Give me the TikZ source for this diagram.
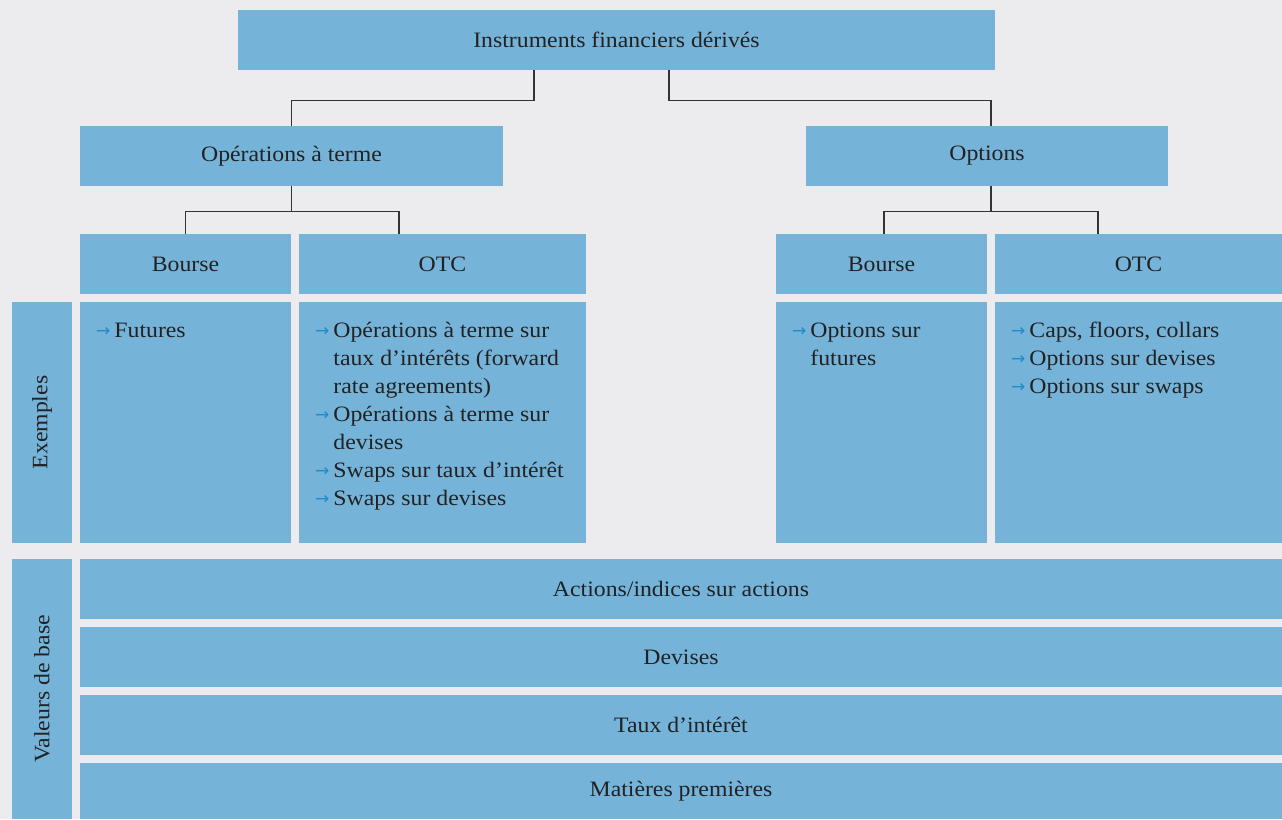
\documentclass[tikz,border=0pt]{standalone}
\usepackage{fontspec}
\setmainfont{Liberation Serif}[FakeStretch=1.08]
\newfontfamily\arrfont{DejaVu Sans}
\usetikzlibrary{calc}
\definecolor{bg}{HTML}{ECECEE}
\definecolor{boxblue}{HTML}{76B3D9}
\definecolor{arrblue}{HTML}{1E8BCB}
\definecolor{txt}{HTML}{222222}
\definecolor{linec}{HTML}{333333}
\newcommand{\itemarr}{{\arrfont\color{arrblue}\fontsize{17}{17}\selectfont\raisebox{1pt}{→}}}
\begin{document}
\begin{tikzpicture}[x=1pt,y=-1pt,
  box/.style={fill=boxblue, inner sep=0pt, text=txt, font=\fontsize{22}{28}\selectfont},
  conn/.style={draw=linec, line width=1.2pt},
  listtext/.style={anchor=north west, inner sep=0pt, text=txt, font=\fontsize{22}{28}\selectfont}]
\fill[bg] (0,0) rectangle (1282,819);
\useasboundingbox (0,0) rectangle (1282,819);
% level 1
\node[box, minimum width=757pt, minimum height=60pt] (top) at (616.5,40) {Instruments financiers dérivés};
% level 2
\node[box, minimum width=423pt, minimum height=60pt] (ot) at (291.5,156) {Opérations à terme};
\node[box, minimum width=362pt, minimum height=60pt] (opt) at (987,156) {Options};
% level 3
\node[box, minimum width=211pt, minimum height=60pt] (bl) at (185.5,264) {Bourse};
\node[box, minimum width=287pt, minimum height=60pt] (ol) at (442.5,264) {OTC};
\node[box, minimum width=211pt, minimum height=60pt] (br) at (881.5,264) {Bourse};
\node[box, minimum width=287pt, minimum height=60pt] (or) at (1138.5,264) {OTC};
% examples
\node[box, minimum width=60pt, minimum height=241pt] (ex) at (42,422.5) {\rotatebox{90}{Exemples}};
\node[box, minimum width=211pt, minimum height=241pt] (e1) at (185.5,422.5) {};
\node[box, minimum width=287pt, minimum height=241pt] (e2) at (442.5,422.5) {};
\node[box, minimum width=211pt, minimum height=241pt] (e3) at (881.5,422.5) {};
\node[box, minimum width=287pt, minimum height=241pt] (e4) at (1138.5,422.5) {};
\node[listtext] (t1) at (96,318) {\begin{tabular}{@{}l@{\hspace{4pt}}l@{}}\itemarr & Futures\end{tabular}};
\node[listtext] (t2) at (315,318) {\begin{tabular}{@{}l@{\hspace{4pt}}l@{}}
\itemarr & Opérations à terme sur\\
 & taux d’intérêts (forward\\
 & rate agreements)\\
\itemarr & Opérations à terme sur\\
 & devises\\
\itemarr & Swaps sur taux d’intérêt\\
\itemarr & Swaps sur devises\end{tabular}};
\node[listtext] (t3) at (792,318) {\begin{tabular}{@{}l@{\hspace{4pt}}l@{}}
\itemarr & Options sur\\
 & futures\end{tabular}};
\node[listtext] (t4) at (1011,318) {\begin{tabular}{@{}l@{\hspace{4pt}}l@{}}
\itemarr & Caps, floors, collars\\
\itemarr & Options sur devises\\
\itemarr & Options sur swaps\end{tabular}};
% base values
\node[box, minimum width=60pt, minimum height=260pt] (vb) at (42,689) {\rotatebox{90}{Valeurs de base}};
\node[box, minimum width=1202pt, minimum height=60pt] (r1) at (681,589) {Actions/indices sur actions};
\node[box, minimum width=1202pt, minimum height=60pt] (r2) at (681,657) {Devises};
\node[box, minimum width=1202pt, minimum height=60pt] (r3) at (681,725) {Taux d’intérêt};
\node[box, minimum width=1202pt, minimum height=56pt] (r4) at (681,791) {Matières premières};
% connectors
\draw[conn] ($(top.south)+(-82.5,0)$) -- ++(0,30) -| (ot.north);
\draw[conn] ($(top.south)+(52.5,0)$) -- ++(0,30) -| ([xshift=4pt]opt.north);
\draw[conn] (ot.south) -- ($(ot.south)+(0,25)$);
\draw[conn] (bl.north) |- ($(ot.south)+(0,25)$) -| ([xshift=-43.5pt]ol.north);
\draw[conn] ([xshift=4pt]opt.south) -- ($(opt.south)+(4,25)$);
\draw[conn] ([xshift=2.5pt]br.north) |- ($(opt.south)+(4,25)$) -| ([xshift=-40.5pt]or.north);
\end{tikzpicture}
\end{document}
